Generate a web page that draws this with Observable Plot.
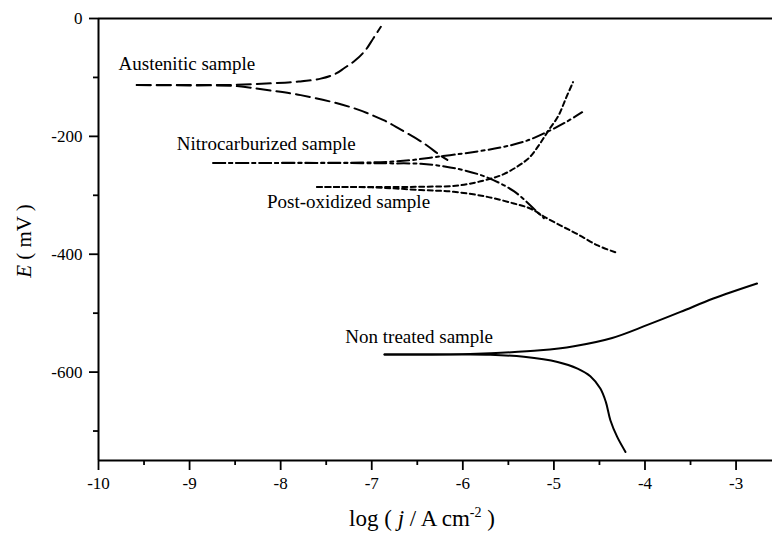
<!DOCTYPE html>
<html>
<head>
<meta charset="utf-8">
<script src="https://cdn.jsdelivr.net/npm/d3@7"></script>
<script src="https://cdn.jsdelivr.net/npm/@observablehq/plot@0.6"></script>
<style>
  html, body { margin: 0; padding: 0; background: #fff; }
  #chart { width: 772px; height: 534px; }
  #chart svg, #chart svg text { font-family: "Liberation Serif", "Times New Roman", serif !important; }
</style>
</head>
<body>
<div id="chart"></div>
<script>
// ---- Data ----
// Austenitic sample (long dash)
const austeniticAnodicX   = [-9.58, -9.0, -8.5, -8.1, -7.8, -7.56, -7.40, -7.30, -7.18, -7.07, -6.98, -6.90];
const austeniticAnodicY   = [-113, -113, -112.5, -110, -107, -102, -94, -84, -71, -54, -33, -14];
const austeniticCathodicX = [-9.58, -9.0, -8.5, -8.15, -7.78, -7.23, -6.87, -6.69, -6.43, -6.25, -6.17];
const austeniticCathodicY = [-113, -113.5, -114.5, -121.5, -130, -150.5, -172.6, -187.8, -211.6, -232, -240];

// Nitrocarburized sample (dash-dot)
const nitroAnodicX   = [-8.74, -8.2, -7.6, -7.1, -6.8, -6.55, -6.25, -5.97, -5.59, -5.31, -5.07, -4.87, -4.69];
const nitroAnodicY   = [-245, -245, -245, -244.5, -243, -240, -234, -228.5, -219, -208, -192, -176, -159];
const nitroCathodicX = [-8.74, -8.2, -7.6, -7.1, -6.8, -6.46, -6.2, -5.99, -5.74, -5.44, -5.18, -5.11];
const nitroCathodicY = [-245, -245, -245, -245.5, -245.8, -246.5, -251, -257.4, -269.3, -293, -328.7, -339];

// Post-oxidized sample (short dash)
const postAnodicX   = [-7.60, -7.0, -6.46, -6.03, -5.70, -5.55, -5.40, -5.27, -5.16, -5.06, -4.95, -4.87, -4.79];
const postAnodicY   = [-286, -286, -285.5, -283, -272, -264, -251, -236, -214, -190, -165, -136, -108];
const postCathodicX = [-7.60, -7.0, -6.46, -6.10, -5.73, -5.44, -5.26, -5.11, -4.93, -4.74, -4.52, -4.32];
const postCathodicY = [-286, -286.5, -291, -294, -302.7, -313.9, -322.4, -336, -351, -366, -385, -397];

// Non treated sample (solid)
const nonAnodicX   = [-6.86, -6.4, -6.0, -5.70, -5.15, -4.78, -4.36, -3.98, -3.61, -3.25, -2.77];
const nonAnodicY   = [-570, -570, -569.5, -568, -563, -556, -542, -520.4, -497.9, -475.2, -449.7];
const nonCathodicX = [-6.86, -6.4, -6.0, -5.70, -5.33, -4.96, -4.74, -4.60, -4.49, -4.43, -4.38, -4.305, -4.214];
const nonCathodicY = [-570, -570, -570, -570.5, -574, -582.7, -594, -607, -628, -650.6, -681.6, -710, -735.4];

// Curve labels
const labelTexts = ["Austenitic sample", "Nitrocarburized sample", "Post-oxidized sample", "Non treated sample"];
const labelX = [-9.78, -9.14, -8.15, -7.29];
const labelY = [-88, -223.5, -322, -551];

// Axis ticks
const xMajorTicks = [-10, -9, -8, -7, -6, -5, -4, -3];
const xMinorTicks = [-9.5, -8.5, -7.5, -6.5, -5.5, -4.5, -3.5];
const yMajorTicks = [-600, -400, -200, 0];
const yMinorTicks = [-700, -500, -300, -100];

// ---- Build ----
const pts = (xs, ys) => xs.map((x, i) => ({x, y: ys[i]}));
const series = [
  {dash: "14,6",     branches: [[austeniticAnodicX, austeniticAnodicY], [austeniticCathodicX, austeniticCathodicY]]},
  {dash: "12,4,3,4", branches: [[nitroAnodicX, nitroAnodicY], [nitroCathodicX, nitroCathodicY]]},
  {dash: "5,3.5",    branches: [[postAnodicX, postAnodicY], [postCathodicX, postCathodicY]]},
  {dash: null,       branches: [[nonAnodicX, nonAnodicY], [nonCathodicX, nonCathodicY]]}
];
const labels = labelTexts.map((t, i) => ({t, x: labelX[i], y: labelY[i]}));

const lineMarks = series.flatMap(s => s.branches.map(([xs, ys]) =>
  Plot.line(pts(xs, ys), {
    x: "x", y: "y", stroke: "black", strokeWidth: 2,
    strokeDasharray: s.dash, curve: "catmull-rom"
  })
));

const svg = Plot.plot({
  width: 772,
  height: 534,
  marginLeft: 98,
  marginTop: 18,
  marginRight: 0,
  marginBottom: 74,
  style: {
    fontFamily: '"Liberation Serif", "Times New Roman", serif',
    fontSize: "17px",
    color: "black",
    background: "white",
    overflow: "visible"
  },
  x: {domain: [-10, -2.6], axis: null},
  y: {domain: [-750, 0], axis: null},
  marks: [
    ...lineMarks,
    Plot.text(labels, {x: "x", y: "y", text: "t", textAnchor: "start", lineAnchor: "bottom", fontSize: 19, fill: "black"}),
    // frame lines
    Plot.ruleX([-10], {stroke: "black", strokeWidth: 2}),
    Plot.ruleY([-750], {stroke: "black", strokeWidth: 2}),
    Plot.ruleY([0], {stroke: "black", strokeWidth: 2}),
    // y axis
    Plot.axisY({ticks: yMajorTicks, tickSize: 9, tickPadding: 7, tickFormat: d => String(d), label: null, strokeWidth: 1.8, fontSize: 17}),
    Plot.axisY({ticks: yMinorTicks, tickSize: 5, tickFormat: () => "", label: null, strokeWidth: 1.8}),
    // x axis
    Plot.axisX({ticks: xMajorTicks, tickSize: 10, tickPadding: 6, tickFormat: d => String(d), label: null, strokeWidth: 1.8, fontSize: 17}),
    Plot.axisX({ticks: xMinorTicks, tickSize: 5, tickFormat: () => "", label: null, strokeWidth: 1.8})
  ]
});

// Axis titles (italic symbols, superscript)
const s = d3.select(svg);
const yt = s.append("text")
  .attr("transform", "translate(31,241) rotate(-90)")
  .attr("text-anchor", "middle")
  .attr("font-size", 21)
  .attr("fill", "black");
yt.append("tspan").attr("font-style", "italic").text("E");
yt.append("tspan").text(" ( mV )");

const xt = s.append("text")
  .attr("x", 422).attr("y", 526)
  .attr("text-anchor", "middle")
  .attr("font-size", 23)
  .attr("fill", "black");
xt.append("tspan").text("log ( ");
xt.append("tspan").attr("font-style", "italic").text("j");
xt.append("tspan").text(" / A cm");
xt.append("tspan").attr("font-size", 14).attr("dy", -9).text("-2");
xt.append("tspan").attr("dy", 9).text(" )");

document.getElementById("chart").appendChild(svg);
</script>
</body>
</html>
